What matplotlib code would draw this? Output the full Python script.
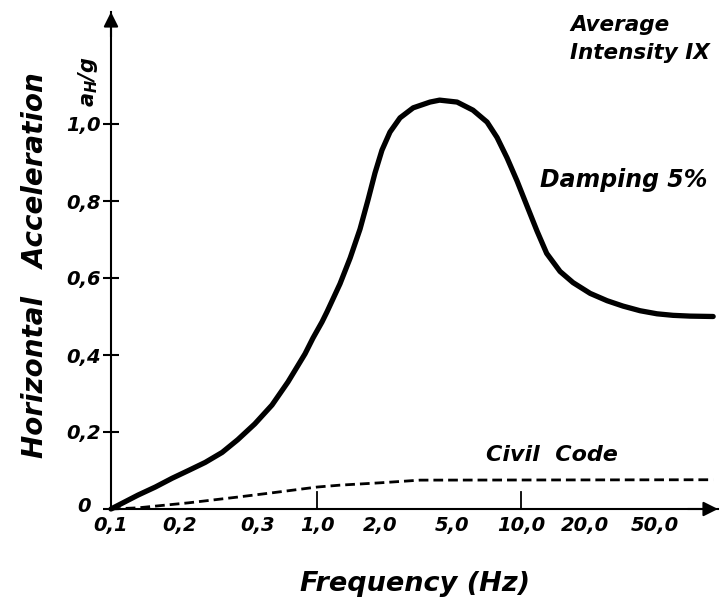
#!/usr/bin/env python3
# -*- coding: utf-8 -*-

import numpy as np

import matplotlib as mpl
mpl.use("Agg")
from matplotlib import pyplot as plt
from matplotlib.transforms import ScaledTranslation

# - data (frequency in Hz, acceleration a_H/g)
freq_ticks = [0.1, 0.2, 0.3, 1.0, 2.0, 5.0, 10.0, 20.0, 50.0]
freq_labels = ["0,1", "0,2", "0,3", "1,0", "2,0", "5,0", "10,0", "20,0", "50,0"]
accel_ticks = [0.0, 0.2, 0.4, 0.6, 0.8, 1.0]
accel_labels = ["0", "0,2", "0,4", "0,6", "0,8", "1,0"]

spectrum_freq = [0.1, 0.131, 0.156, 0.185, 0.209, 0.228, 0.249, 0.270, 0.295, 0.399,
                 0.553, 0.783, 0.921, 1.057, 1.116, 1.288, 1.44, 1.605, 1.753, 1.893,
                 2.05, 2.27, 2.58, 3.05, 3.78, 4.27, 5.26, 6.17, 7.11, 7.86,
                 8.69, 9.61, 10.67, 11.89, 13.2, 15.26, 17.57, 21.4, 26.7, 32.9,
                 41.1, 51.3, 63.3, 79.1, 107.0]
spectrum_accel = [0.0, 0.036, 0.057, 0.080, 0.100, 0.121, 0.147, 0.180, 0.221, 0.270,
                  0.330, 0.403, 0.444, 0.486, 0.512, 0.585, 0.652, 0.727, 0.803, 0.873,
                  0.932, 0.979, 1.016, 1.042, 1.057, 1.062, 1.057, 1.036, 1.005, 0.965,
                  0.912, 0.852, 0.787, 0.722, 0.664, 0.617, 0.588, 0.560, 0.541, 0.527,
                  0.515, 0.507, 0.503, 0.501, 0.500]

code_freq = [0.1, 0.131, 0.209, 0.270, 0.399, 1.0, 1.29, 2.0, 3.33, 107.0]
code_accel = [0.0, 0.003, 0.016, 0.031, 0.042, 0.057, 0.062, 0.068, 0.075, 0.076]

# - the frequency axis of the original is a hand-drawn, uneven log-like scale
tick_pos = np.array([0, 69, 147, 206, 269, 341, 410, 474, 544], dtype=float)
log_ticks = np.log10(freq_ticks)
slope_lo = (tick_pos[1] - tick_pos[0]) / (log_ticks[1] - log_ticks[0])
slope_hi = (tick_pos[-1] - tick_pos[-2]) / (log_ticks[-1] - log_ticks[-2])


def fwd(x):
    lx = np.log10(np.maximum(np.asarray(x, dtype=float), 1e-9))
    out = np.interp(lx, log_ticks, tick_pos)
    out = np.where(lx > log_ticks[-1], tick_pos[-1] + (lx - log_ticks[-1])*slope_hi, out)
    out = np.where(lx < log_ticks[0], tick_pos[0] + (lx - log_ticks[0])*slope_lo, out)
    return out


def inv(p):
    p = np.asarray(p, dtype=float)
    out = np.interp(p, tick_pos, log_ticks)
    out = np.where(p > tick_pos[-1], log_ticks[-1] + (p - tick_pos[-1])/slope_hi, out)
    out = np.where(p < tick_pos[0], log_ticks[0] + (p - tick_pos[0])/slope_lo, out)
    return 10**out


plt.rcParams["font.family"] = ["DejaVu Sans"]
plt.rcParams["font.weight"] = "bold"
plt.rcParams["font.style"] = "italic"

fig = plt.figure(figsize=(7.23, 6.07), dpi=100)
ax = fig.add_axes([111/723, 1 - 509/607, (718 - 111)/723, (509 - 12)/607])

ax.set_xscale("function", functions=(fwd, inv))
ax.set_xlim(0.1, 114.0)
ax.set_ylim(0.0, (509 - 12)/385)

ax.plot(spectrum_freq, spectrum_accel, color="black", lw=3.8,
        solid_joinstyle="round", solid_capstyle="round", clip_on=False)
ax.plot(code_freq, code_accel, color="black", lw=2.0, dashes=(3.5, 1.8), clip_on=False)

# - axes as arrows
for side in ["top", "right"]:
    ax.spines[side].set_visible(False)
for side in ["left", "bottom"]:
    ax.spines[side].set_linewidth(1.5)
ax.annotate("", xy=(1.0, 0.0), xytext=(0.95, 0.0), xycoords="axes fraction",
            arrowprops=dict(arrowstyle="-|>", color="black", lw=1.5,
                            mutation_scale=22, shrinkA=0, shrinkB=0))
ax.annotate("", xy=(0.0, 1.0), xytext=(0.0, 0.95), xycoords="axes fraction",
            arrowprops=dict(arrowstyle="-|>", color="black", lw=1.5,
                            mutation_scale=22, shrinkA=0, shrinkB=0))

ax.set_xticks(freq_ticks)
ax.set_xticklabels(freq_labels, fontsize=14)
ax.xaxis.set_minor_locator(mpl.ticker.NullLocator())
ax.tick_params(axis="x", length=0, pad=5)
for f in [1.0, 10.0]:
    ax.plot([f, f], [0.0, 0.045], color="black", lw=1.3)

ax.set_yticks(accel_ticks)
ax.set_yticklabels(accel_labels, fontsize=14)
ax.tick_params(axis="y", direction="inout", length=11, width=1.5, pad=2)
# the "0" sits a little left of and above the origin
zero_lbl = ax.get_yticklabels()[0]
zero_lbl.set_transform(zero_lbl.get_transform()
                       + ScaledTranslation(-10/100, 4/100, fig.dpi_scale_trans))

ax.set_xlabel("Frequency (Hz)", fontsize=19.5, fontweight="bold", labelpad=26)
fig.text(35/723, 1 - 265/607, "Horizontal   Acceleration", rotation=90,
         fontsize=20, ha="center", va="center")
fig.text(88/723, 1 - 82/607, r"$a_H/g$", rotation=90, fontsize=15,
         ha="center", va="center")

ax.text(0.756, 0.994, "Average\nIntensity IX", transform=ax.transAxes,
        fontsize=15.5, ha="left", va="top", linespacing=1.5)
ax.text(0.706, 0.662, "Damping 5%", transform=ax.transAxes,
        fontsize=17, ha="left", va="center")
ax.text(0.618, 0.109, "Civil  Code", transform=ax.transAxes,
        fontsize=16, ha="left", va="center")

plt.savefig("out.png", dpi=100)
plt.close()
